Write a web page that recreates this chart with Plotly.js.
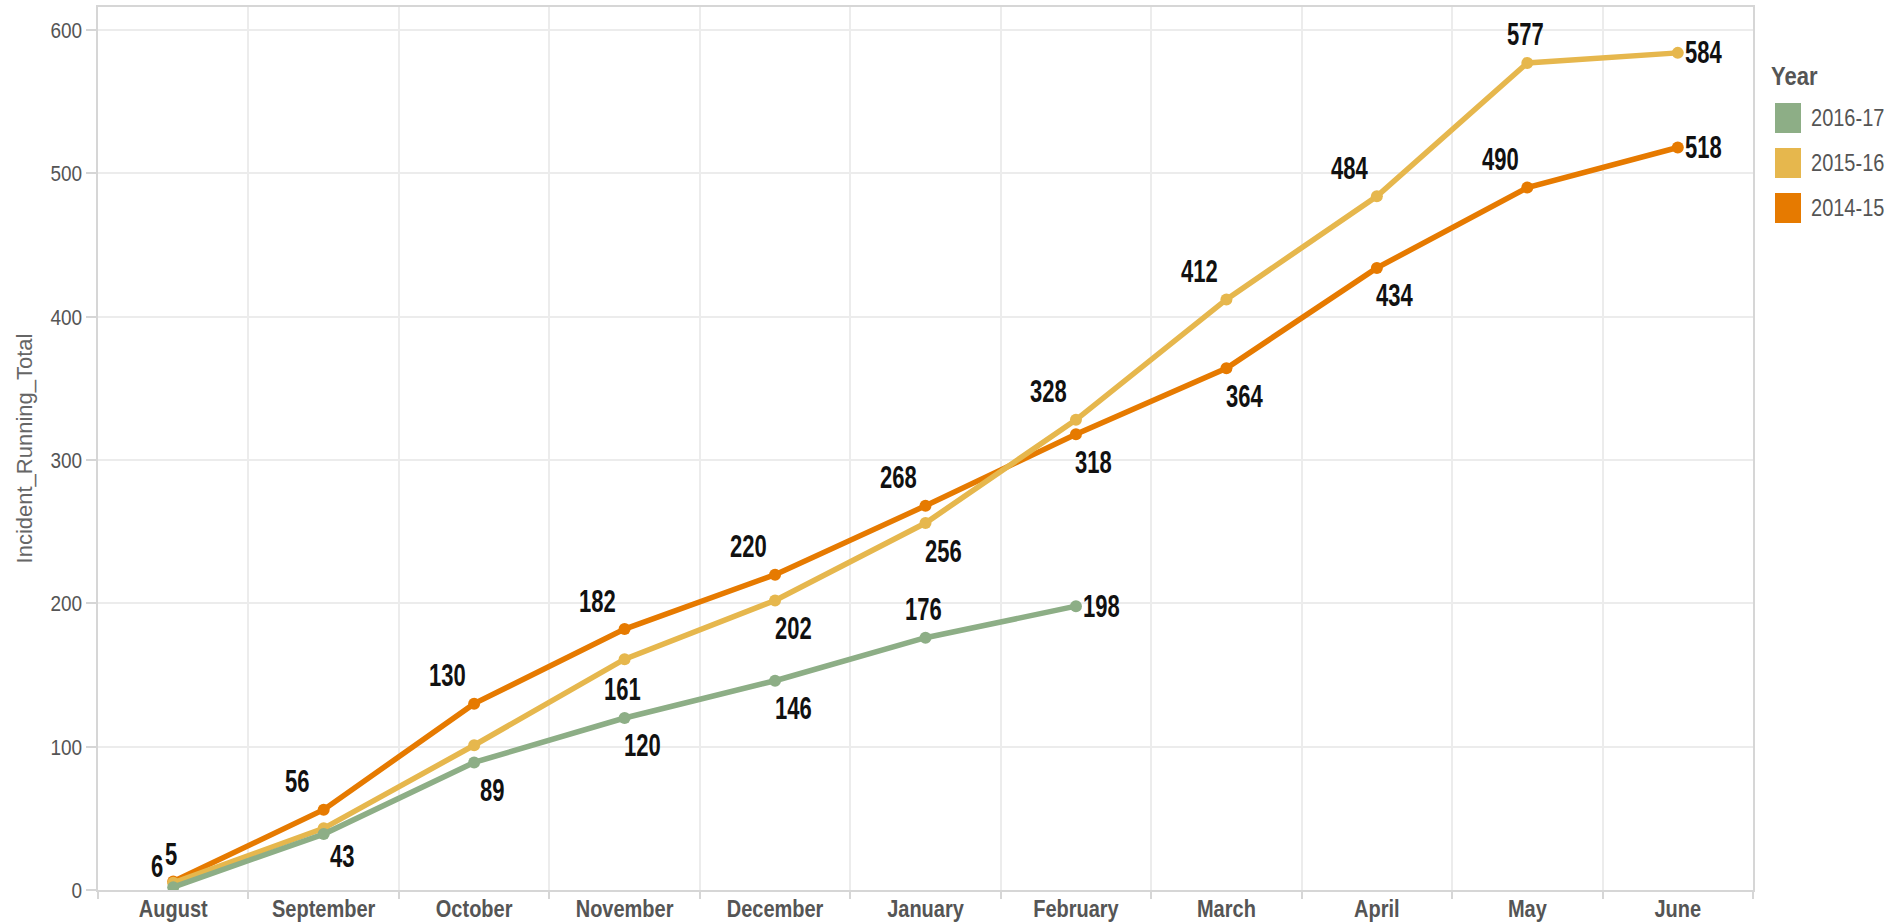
<!DOCTYPE html>
<html>
<head>
<meta charset="utf-8">
<script src="https://cdn.plot.ly/plotly-3.0.1.min.js"></script>
<style>
  html, body { margin: 0; padding: 0; background: #fff; }
  #chart { width: 1895px; height: 924px; }
</style>
</head>
<body>
<div id="chart"></div>
<script>
// ---- data ----
const months = ["August","September","October","November","December","January","February","March","April","May","June"];
const yearNames = ["2014-15","2015-16","2016-17"];
const values2014 = [6, 56, 130, 182, 220, 268, 318, 364, 434, 490, 518];
const values2015 = [5, 43, 101, 161, 202, 256, 328, 412, 484, 577, 584];
const values2016 = [2, 39, 89, 120, 146, 176, 198];
const yTicks = [0, 100, 200, 300, 400, 500, 600];
const legendTitle = "Year";
const legendOrder = ["2016-17", "2015-16", "2014-15"];

// label placement codes (style only): tl=above-left, br=below-right, t=above, b=below, r=right, l=left, ""=none
const labelPos2014 = ["l","tl","tl","tl","tl","tl","br","br","br","tl","r"];
const labelPos2015 = ["t","br","","b","br","br","tl","tl","tl","t","r"];
const labelPos2016 = ["","","br","br","br","t","r"];

const colors = {"2014-15": "#E67A00", "2015-16": "#E6B74D", "2016-17": "#8DAE86"};

const SANS = "'Liberation Sans', Arial, Helvetica, sans-serif";

const series = [
  {name: yearNames[0], vals: values2014, pos: labelPos2014},
  {name: yearNames[1], vals: values2015, pos: labelPos2015},
  {name: yearNames[2], vals: values2016, pos: labelPos2016}
];

const shifts = {
  tl: [-27, 28], br: [18, -28], t: [-2, 28], b: [-2, -30], r: [26, 0], l: [-16, 15]
};

const traces = [];
const annotations = [];
const shapes = [];
series.forEach(s => {
  traces.push({
    type: "scatter", mode: "lines+markers",
    x: months.slice(0, s.vals.length), y: s.vals,
    name: s.name, showlegend: false,
    line: {color: colors[s.name], width: 5.5},
    marker: {color: colors[s.name], size: 12},
    hoverinfo: "x+y+name"
  });
  s.vals.forEach((v, i) => {
    const p = s.pos[i];
    if (!p) return;
    const sh = shifts[p];
    annotations.push({
      x: months[i], y: v, xref: "x", yref: "y",
      text: String(v), showarrow: false,
      xshift: sh[0], yshift: sh[1],
      xanchor: "center", yanchor: "middle",
      font: {family: SANS, size: 22, color: "#111", weight: 700}
    });
  });
});
const nDataLabels = annotations.length;

// ---- legend (Tableau style: title + square swatches) ----
const plotL = 98, plotR = 1753, plotT = 7, plotB = 890;
const px2x = px => (px - plotL) / (plotR - plotL);
const px2y = py => (plotB - py) / (plotB - plotT);
annotations.push({
  xref: "paper", yref: "paper", x: px2x(1769), y: px2y(77),
  xanchor: "left", yanchor: "middle", showarrow: false,
  text: "<b>" + legendTitle + "</b>",
  font: {family: SANS, size: 22, color: "#555"}
});
legendOrder.forEach((n, k) => {
  const cy = 118 + 45 * k;
  shapes.push({
    type: "rect", xref: "paper", yref: "paper",
    xsizemode: "pixel", ysizemode: "pixel",
    xanchor: px2x(1788), yanchor: px2y(cy),
    x0: -13, x1: 13, y0: -15, y1: 15,
    fillcolor: colors[n], line: {width: 0}, layer: "above"
  });
  annotations.push({
    xref: "paper", yref: "paper", x: px2x(1809), y: px2y(cy),
    xanchor: "left", yanchor: "middle", showarrow: false,
    text: n, font: {family: SANS, size: 20, color: "#555"}
  });
});

const layout = {
  width: 1895, height: 924,
  margin: {l: plotL, r: 1895 - plotR, t: plotT, b: 924 - plotB, pad: 0},
  paper_bgcolor: "#ffffff", plot_bgcolor: "#ffffff",
  showlegend: false,
  xaxis: {
    type: "category", categoryorder: "array", categoryarray: months,
    range: [-0.5, 10.5], tickson: "boundaries",
    showgrid: true, gridcolor: "#ececec", gridwidth: 1.5,
    showline: true, linecolor: "#d6d6d6", linewidth: 2, mirror: true,
    ticks: "outside", ticklen: 7, tickcolor: "#d6d6d6", tickwidth: 1.5,
    tickfont: {family: SANS, size: 20, color: "#555", weight: 700},
    automargin: false, zeroline: false, fixedrange: true
  },
  yaxis: {
    range: [0, 616], tickvals: yTicks, ticktext: yTicks.map(String),
    showgrid: true, gridcolor: "#ececec", gridwidth: 1.5,
    showline: true, linecolor: "#d6d6d6", linewidth: 2, mirror: true,
    ticks: "outside", ticklen: 10, tickcolor: "#d6d6d6", tickwidth: 1.5,
    tickfont: {family: SANS, size: 19, color: "#555"},
    title: {text: "Incident_Running_Total", font: {family: SANS, size: 22, color: "#666"}, standoff: 12},
    automargin: false, zeroline: false, fixedrange: true
  },
  annotations: annotations,
  shapes: shapes
};

// Tableau's fonts are condensed; stretch text vertically about its own centre to mimic them
function stretch(el, f) {
  try {
    const bb = el.getBBox();
    const cx = bb.x + bb.width / 2, cy = bb.y + bb.height / 2;
    const t = el.getAttribute("transform") || "";
    el.setAttribute("transform", t + " translate(" + cx + "," + cy + ") scale(1," + f + ") translate(" + (-cx) + "," + (-cy) + ")");
  } catch (e) {}
}

Plotly.newPlot("chart", traces, layout, {displayModeBar: false}).then(gd => {
  gd.querySelectorAll("g.annotation").forEach(g => {
    const idx = +g.getAttribute("data-index");
    const txt = g.querySelector("text.annotation-text");
    if (txt) stretch(txt, idx < nDataLabels ? 1.4 : 1.18);
  });
  gd.querySelectorAll("g.xtick text, g.ytick text").forEach(t => stretch(t, 1.2));
});
</script>
</body>
</html>
